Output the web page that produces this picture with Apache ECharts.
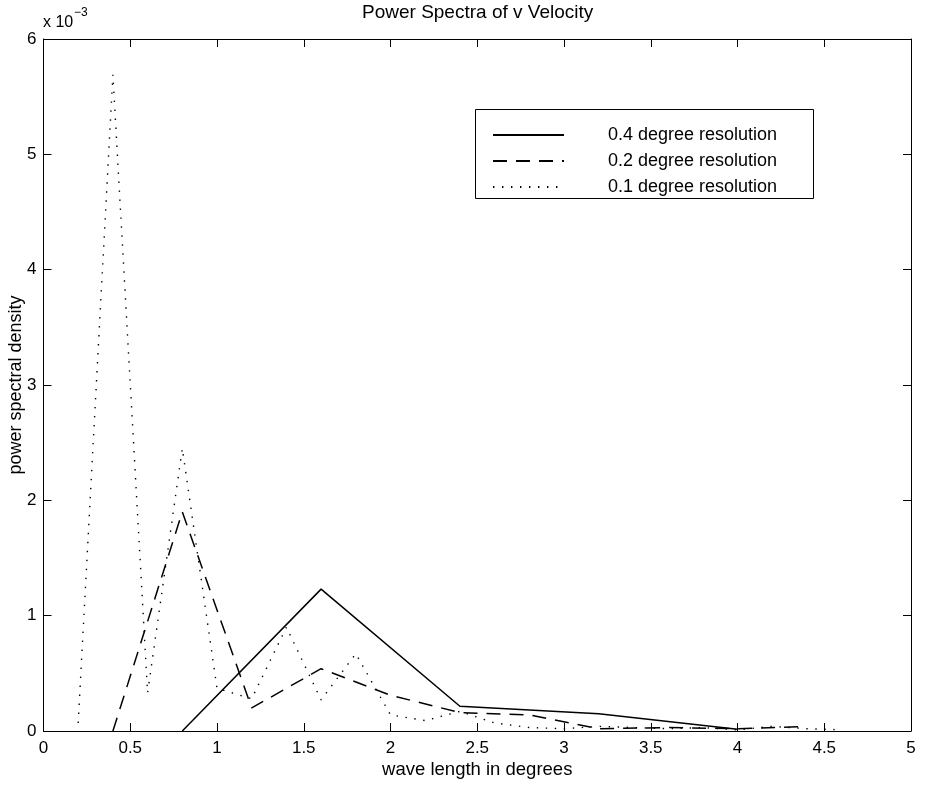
<!DOCTYPE html>
<html>
<head>
<meta charset="utf-8">
<script src="https://cdn.jsdelivr.net/npm/echarts@6/dist/echarts.min.js"></script>
<style>
html,body{margin:0;padding:0;background:#fff;}
#chart{width:928px;height:785px;}
</style>
</head>
<body>
<div id="chart"></div>
<script>
// ---- data (power spectral density, in units of 1e-3) ----
const seriesNames = ['0.4 degree resolution', '0.2 degree resolution', '0.1 degree resolution'];

const res04X = [0.8, 1.6, 2.4, 3.2, 4.0];
const res04Y = [0, 1.23, 0.215, 0.15, 0.015];

const res02X = [0.4, 0.8, 1.2, 1.6, 2.0, 2.4, 2.8, 3.2, 3.6, 4.0, 4.4];
const res02Y = [0, 1.90, 0.20, 0.54, 0.31, 0.16, 0.14, 0.02, 0.03, 0.02, 0.04];

const res01X = [0.2, 0.4, 0.6, 0.8, 1.0, 1.2, 1.4, 1.6, 1.8, 2.0, 2.2, 2.4,
                2.6, 2.8, 3.0, 3.2, 3.4, 3.6, 3.8, 4.0, 4.2, 4.4, 4.6];
const res01Y = [0.07, 5.69, 0.33, 2.45, 0.37, 0.28, 0.90, 0.27, 0.67, 0.14, 0.09, 0.17,
                0.07, 0.03, 0.02, 0.04, 0.03, 0.02, 0.03, 0.01, 0.04, 0.02, 0.01];

const xTicks = [0, 0.5, 1, 1.5, 2, 2.5, 3, 3.5, 4, 4.5, 5];
const yTicks = [0, 1, 2, 3, 4, 5, 6];

const titleText = 'Power Spectra of v Velocity';
const xName = 'wave length in degrees';
const yName = 'power spectral density';

function pairs(xs, ys) { return xs.map((x, i) => [x, ys[i]]); }

const FONT = "'Liberation Sans', Arial, Helvetica, sans-serif";
const chart = echarts.init(document.getElementById('chart'), null, {renderer: 'canvas'});

const axisLine = {show: true, onZero: false, lineStyle: {color: '#000', width: 1}};
const tick = {show: true, inside: true, length: 8, lineStyle: {color: '#000', width: 1}};

const option = {
  backgroundColor: '#fff',
  animation: false,
  title: {
    text: titleText, left: 357, top: -2,
    textStyle: {fontFamily: FONT, fontSize: 19, fontWeight: 'normal', color: '#000'}
  },
  grid: {left: 43.5, right: 17, top: 39, bottom: 54, containLabel: false, outerBoundsMode: 'none'},
  xAxis: [{
    type: 'value', position: 'bottom', min: xTicks[0], max: xTicks[xTicks.length - 1], interval: 0.5,
    axisLine: axisLine, axisTick: tick, splitLine: {show: false},
    axisLabel: {color: '#000', fontFamily: FONT, fontSize: 17, margin: 9},
    name: xName, nameLocation: 'middle', nameGap: 29, nameMoveOverlap: false,
    nameTextStyle: {color: '#000', fontFamily: FONT, fontSize: 18.5}
  }, {
    type: 'value', position: 'top', min: xTicks[0], max: xTicks[xTicks.length - 1], interval: 0.5,
    axisLine: axisLine, axisTick: tick, splitLine: {show: false}, axisLabel: {show: false}
  }],
  yAxis: [{
    type: 'value', position: 'left', min: yTicks[0], max: yTicks[yTicks.length - 1], interval: 1,
    axisLine: axisLine, axisTick: tick, splitLine: {show: false},
    axisLabel: {color: '#000', fontFamily: FONT, fontSize: 17, margin: 7},
    name: yName, nameLocation: 'middle', nameGap: 18, nameMoveOverlap: false,
    nameTextStyle: {color: '#000', fontFamily: FONT, fontSize: 18}
  }, {
    type: 'value', position: 'right', min: yTicks[0], max: yTicks[yTicks.length - 1], interval: 1,
    axisLine: axisLine, axisTick: tick, splitLine: {show: false}, axisLabel: {show: false}
  }],
  legend: {
    orient: 'vertical', left: 492, top: 126, padding: 0,
    itemWidth: 71, itemHeight: 14, itemGap: 8, z: 10,
    data: seriesNames,
    itemStyle: {opacity: 0},
    textStyle: {color: '#000', fontFamily: FONT, fontSize: 18, padding: [0, 0, 0, 39]}
  },
  graphic: [
    {type: 'rect', left: 475, top: 109, z: 5,
     shape: {width: 338, height: 89},
     style: {fill: '#fff', stroke: '#000', lineWidth: 1}},
    {type: 'text', left: 43, top: 15, z: 5,
     style: {text: 'x 10', fill: '#000', font: '16px ' + FONT}},
    {type: 'text', left: 74, top: 7, z: 5,
     style: {text: '\u22123', fill: '#000', font: '12px ' + FONT}}
  ],
  series: [
    {name: seriesNames[0], type: 'line', data: pairs(res04X, res04Y), symbol: 'none',
     lineStyle: {color: '#000', width: 1.5, type: 'solid'}, itemStyle: {color: '#000'}},
    {name: seriesNames[1], type: 'line', data: pairs(res02X, res02Y), symbol: 'none',
     lineStyle: {color: '#000', width: 1.5, type: [14, 9]}, itemStyle: {color: '#000'}},
    {name: seriesNames[2], type: 'line', data: pairs(res01X, res01Y), symbol: 'none',
     lineStyle: {color: '#000', width: 1.4, type: [1.4, 7.6]}, itemStyle: {color: '#000'}}
  ]
};
chart.setOption(option);
</script>
</body>
</html>
